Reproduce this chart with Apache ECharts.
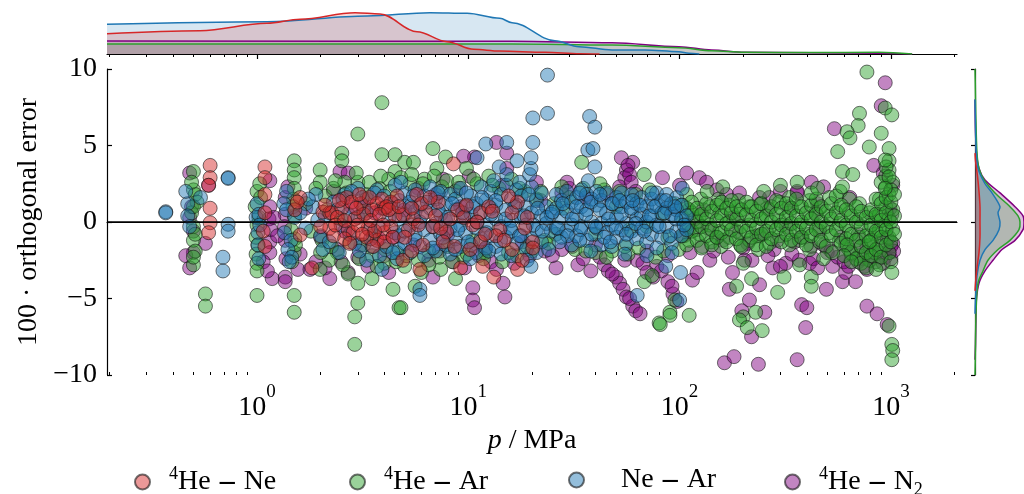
<!DOCTYPE html>
<html><head><meta charset="utf-8">
<script src="https://cdn.jsdelivr.net/npm/echarts@6/dist/echarts.min.js"></script>
<style>html,body{margin:0;padding:0;background:#fff}#c{width:1024px;height:494px}</style>
</head><body><div id="c"></div>
<script>
const FONT = '"Liberation Serif","Times New Roman","DejaVu Serif",serif';
const P_MIN = 0.195, P_MAX = 2055;
const majorTicks = [1, 10, 100, 1000];
const minorTicks = [0.2,0.3,0.4,0.5,0.6,0.7,0.8,0.9,2,3,4,5,6,7,8,9,20,30,40,50,60,70,80,90,200,300,400,500,600,700,800,900,2000];
const yTicks = [-10, -5, 0, 5, 10];
const seriesNames = ['He-Ne', 'He-Ar', 'Ne-Ar', 'He-N2'];
const legendLeft = [129, 344, 563, 779];
const legendText = {
  'He-Ne': '{sup|4}{t|He}{m|–}{t|Ne}',
  'He-Ar': '{sup|4}{t|He}{m|–}{t|Ar}',
  'Ne-Ar': '{tp|Ne}{m|–}{t|Ar}',
  'He-N2': '{sup|4}{t|He}{m|–}{t|N}{sub|2}'
};
const colors = { 'He-Ne': [214,39,40], 'He-Ar': [44,160,44], 'Ne-Ar': [31,119,180], 'He-N2': [128,0,128] };

// ---------- scatter data: [p / MPa, 100 * orthogonal error] ----------
const heNeA = [
[0.60,3.7],[0.60,2.9],[0.59,2.4],[0.60,0.9],[0.60,-0.05],[0.59,-0.7],
[1.09,3.6],[1.09,2.9],[1.09,1.8],[1.09,0.6],[1.07,-0.6],[1.09,-1.6],
[1.60,1.6],[1.51,0.8],[1.60,-0.85],[1.55,1.3],[1.82,-3.0],
[2.05,0.65],[2.21,0.6],[2.26,0.6],[2.52,0.9],[2.66,1.6],[3.10,1.2],[3.70,1.2],[4.00,0.9],
[2.21,-0.4],[2.70,-0.5],[2.85,-0.7],[3.35,-0.4],[3.70,-1.2],[4.00,-0.7],
[2.40,0.3],[2.90,0.2],[3.20,0.5],[3.50,0.8],[3.90,1.5],[4.30,1.3],[2.30,-0.9],[2.60,-1.1],[3.00,-0.2],[3.30,-1.0],[3.60,-0.6],[4.30,-0.3],[4.50,0.4],[2.00,-0.3],[2.80,1.3],[3.40,1.6],
[4.10,1.0],[4.90,0.45],[5.70,1.8],[6.30,0.65],[7.20,1.3],[7.90,-0.65],[8.90,0.8],[11.4,0.6],[16.1,0.6],[17.1,1.3],[14.1,-0.5],[20.2,-1.3],[20.2,-1.7],[16.1,-1.8],[11.4,-1.3],[11.7,-2.9],[17.1,-3.1],[4.90,-2.5],[5.90,-3.1],[5.20,-0.5],[4.00,-1.3],[7.60,-1.3],[8.50,3.8],[9.2,-3.0],
[4.6,1.7],[5.5,0.2],[6.8,-0.3],[9.5,0.3],[10.5,-0.2],[12.5,1.0],[13.5,-0.9],[18.5,-0.4],[6.0,1.2],[7.0,0.4]
];
const heNeB = [
[2.1,1.1],[2.35,-0.2],[2.45,1.4],[2.6,0.1],[2.75,-1.4],[2.95,0.9],[3.05,1.8],[3.15,-0.8],[3.45,0.1],[3.55,-1.6],[3.8,0.5],[3.95,-0.2],[4.2,0.8],[4.4,-1.0],[4.7,1.0],[5.0,-1.0],[5.4,0.9],[5.8,-0.2],[6.1,-1.5],[6.6,1.6],[7.4,-0.4],[8.2,0.2],[8.6,-1.6],[9.8,1.1],[10.2,-1.8],[11.0,0.0],[12.0,-0.8],[13.0,0.7],[14.8,-1.2],[15.5,1.7],[19.0,0.3],[18.0,-2.5],[13.2,-3.6],[5.4,-1.9]
];
const heArLow = [
[0.50,3.3],[0.50,2.1],[0.51,1.8],[0.50,-0.3],[0.50,-1.2],[0.50,-2.8],[0.57,-4.7],[0.57,-5.5],[0.52,1.3],[0.49,0.6],[0.51,-0.8],
[0.49,2.6],[0.50,1.0],[0.51,-1.9],[0.50,-2.3],[1.00,2.0],[1.01,-1.5],[0.99,-2.1],[1.49,1.5],[1.50,0.4],[1.51,-1.1],[1.50,-2.0],
[1.03,2.5],[0.98,1.0],[1.00,-0.2],[1.00,-2.7],[1.00,-3.2],[1.00,-4.8],[1.02,0.3],[0.99,-1.0],[1.04,1.6],
[1.50,4.0],[1.50,3.4],[1.50,2.9],[1.50,2.2],[1.50,-4.8],[1.50,-5.9],[1.48,1.0],[1.45,-0.5],[1.52,-1.5],[1.46,-2.6],
[1.99,3.4],[1.99,2.6],[2.03,-1.2],[1.99,-3.1],[2.52,4.5],[2.52,4.0],[2.10,1.7],[2.30,2.2],[2.60,2.6],[2.40,-2.0],[2.20,-2.5],[2.70,-3.4],
[3.00,5.75],[3.90,7.8],[3.90,4.4],[4.50,4.4],[4.50,3.3],[3.00,2.6],[3.00,-4.0],[3.00,-5.3],[2.90,-6.2],[2.90,-8.0],[3.50,-3.7],[4.40,-4.4],[4.70,-5.6],
[3.30,1.8],[3.80,2.2],[4.20,2.8],[3.50,-2.2],[4.00,-2.7],[4.60,-2.0],[3.20,-1.5]
];
const heArMid = [
[5.0,3.9],[5.5,3.9],[6.8,4.8],[7.8,4.25],[7.1,3.5],[9.8,3.5],[5.3,2.5],[6.2,2.8],[7.5,2.3],[8.7,2.0],[11,2.5],[12.5,3.0],[14,2.2],[16,2.8],[18.5,2.0],[21,1.5],
[5.0,-2.9],[6.0,-3.3],[7.4,-3.1],[8.7,-3.7],[4.8,-5.6],[9.5,-2.3],[12,-2.0],[14.5,-2.6],[17,-2.2],[19,-1.6],[23,-1.2],[26,-0.8],[28,0.9],[30,1.6],[27.7,2.3],[34.4,3.9],[5.6,-4.2],[6.5,-1.9],[8,-1.6],[10.5,-1.2],
[1.7,1.2],[1.8,-0.6],[1.9,2.2],[2.0,-2.0],[2.15,0.8],[2.25,-1.6],[2.35,2.7],[2.5,0.2],[2.55,-2.8],[2.65,1.9],[2.75,-1.3],[2.95,3.2],[3.05,-2.4],[3.2,0.7],[3.4,2.6],[3.55,-0.9],[3.7,-2.9],[3.85,3.0],[4.05,-1.8],[4.25,2.0],[4.55,-2.6],[4.8,2.9],[5.1,-2.2],[5.4,3.1],[5.8,-2.5],[6.1,2.5],[6.5,-2.8],[6.9,3.0],[7.3,-2.3],[7.9,2.7],[8.4,-2.6],[9.0,2.6],[9.9,-2.1],[10.6,2.8],[11.8,-2.4],[13.0,2.4],[15.5,-2.0],[17.5,2.2],[20,-1.9],[22,2.0],[24,-1.4],[25.5,1.2],[32,-1.8],[35,2.2],[40,-2.0],[44,2.1],[48,-1.9],[52,2.0],[57,-2.1],[64,-1.7],[72,2.1],[77,-2.3],[84,-1.9],[99,-1.8],
[80,-6.6],[90,-5.9],[95,-5.1],[68,-3.9],[74,-3.5],[68,3.1],[42,2.5],[36,-1.9],[45,-2.3],[55,-1.6],[62,1.8],[88,-1.0],[50,1.0],[40,-0.8],[58,-0.5],[70,-0.3],[83,0.5],[95,1.2]
];
const heArHigh = [
[111,0.8],[111,-0.4],[111,-1.2],[108,1.8],[124,0.4],[124,-0.8],[126,1.5],[139,1.0],[139,-0.2],[141,-1.3],
[155,0.6],[155,-0.6],[153,1.5],[157,-1.6],[172,1.1],[172,0.0],[172,-1.0],[192,0.5],[192,-0.7],[190,1.4],[194,-1.5],
[214,1.0],[214,-0.2],[214,-1.2],[239,0.3],[239,-0.9],[242,1.2],[236,-1.8],[266,0.8],[266,-0.4],[266,-1.4],
[297,1.3],[297,0.1],[297,-0.9],[331,0.6],[331,-0.5],[331,1.6],[331,-1.5],[369,1.0],[369,-0.2],[369,-1.2],
[412,1.4],[412,0.3],[412,-0.8],[412,-1.8],[459,0.9],[459,-0.3],[459,-1.3],[512,1.6],[512,0.4],[512,-0.7],
[571,1.0],[571,-0.1],[571,-1.2],[575,2.0],[636,0.6],[636,-0.6],[636,-1.8],[636,1.5],[710,0.2],[710,-1.0],[710,1.2],[710,-2.2],
[791,-0.5],[791,-1.5],[791,0.6],[791,-2.5],[840,-0.8],[840,-2.0],[840,0.3],[883,1.5],[883,0.5],[883,-0.5],[883,-1.6],[883,-2.8],
[945,3.0],[945,1.0],[945,-0.3],[945,2.3],[980,4.0],[980,1.8],[980,0.2],[980,-1.0],[980,-2.0],[980,3.4],[1020,2.6],[1020,0.8],[1020,-0.5],
[103,0.3],[103,-0.9],[103,1.1],[108,-0.2],[108,-1.5],[108,0.9],[114,0.6],[114,-0.6],[114,1.3],[121,0.0],[121,-1.2],[121,0.9],
[127,0.5],[127,-0.3],[127,-1.7],[134,1.2],[134,0.2],[134,-0.9],[142,0.7],[142,-0.5],[142,-1.5],[150,1.1],[150,0.1],[150,-1.0],
[158,0.4],[158,-0.7],[158,1.3],[167,-0.1],[167,-1.3],[167,0.9],[176,0.6],[176,-0.5],[176,1.4],[186,0.2],[186,-1.1],[186,1.0],
[196,-0.3],[196,0.8],[196,-1.6],[207,0.5],[207,-0.6],[207,1.3],[219,0.1],[219,-1.0],[219,1.0],[231,0.7],[231,-0.4],[231,-1.5],
[244,1.2],[244,0.2],[244,-0.8],[257,0.4],[257,-0.6],[257,-1.6],[272,1.0],[272,0.0],[272,-1.1],[287,0.5],[287,-0.5],[287,1.4],
[303,-0.2],[303,0.9],[303,-1.3],[320,0.3],[320,-0.8],[320,1.2],[338,0.9],[338,-0.1],[338,-1.2],[357,0.4],[357,-0.6],[357,1.5],
[377,1.0],[377,0.0],[377,-1.0],[398,0.6],[398,-0.4],[398,-1.5],[420,1.1],[420,0.2],[420,-0.9],[443,0.5],[443,-0.5],[443,1.5],
[468,0.0],[468,1.0],[468,-1.2],[494,0.7],[494,-0.3],[494,-1.6],[522,1.2],[522,0.2],[522,-0.9],[551,0.6],[551,-0.5],[551,1.7],
[582,0.1],[582,1.1],[582,-1.4],[614,0.8],[614,-0.2],[614,-1.1],[649,0.4],[649,-0.8],[649,-2.0],[685,0.0],[685,-1.2],[685,-2.4],[685,1.0],
[723,-0.3],[723,-1.6],[723,-2.7],[723,0.7],[764,0.3],[764,-0.9],[764,-2.0],[764,-3.0],[806,-0.2],[806,-1.2],[806,0.8],[806,-2.2],
[851,0.5],[851,-0.6],[851,-1.8],[851,1.5],[899,0.1],[899,-1.0],[899,1.2],[899,-2.3],[899,2.6],[949,0.6],[949,-0.5],[949,-1.5],[949,1.6],[949,3.6],
[1000,0.0],[1000,-1.3],[1000,1.3],[1000,2.1],[1000,-2.6],[1040,0.4],[1040,-0.8],[1040,1.8]
];
const heArOut = [
[770,9.8],[940,7.45],[1010,7.0],[710,7.1],[700,6.3],[620,5.9],[640,5.5],[560,4.6],[790,4.9],[900,5.8],[980,4.8],[940,4.05],[590,3.3],[660,3.1],[980,2.95],[590,2.3],[940,2.2],[420,1.9],
[200,-6.2],[192,-6.4],[209,-6.9],[229,-5.9],[246,-7.1],[219,-3.7],[186,-4.2],[200,-2.7],[291,-4.6],[312,-3.6],[420,-3.6],[420,-4.2],[620,-1.5],[850,-3.1],[1010,-3.3],
[980,-6.8],[1010,-8.0],[1020,-8.4],[1010,-9.0],[90,-6.1],[111,-6.1],[81,-6.7],[790,-1.3],[600,-2.2],[650,-2.6],[530,-2.0],[480,-2.4],[370,-2.8],
[135,2.0],[160,2.3],[250,2.0],[300,2.4],[360,2.6],[450,2.2]
];
const neArLow = [
[0.37,0.67],[0.37,0.6],[0.47,1.2],[0.54,1.6],[0.47,0.4],[0.73,2.9],[0.73,2.85],[0.73,-0.15],[0.73,-0.6],[0.69,-2.3],[0.69,-3.2],
[0.48,-0.3],[0.46,2.0],[0.99,0.3],[1.02,-2.4],[1.35,-0.7],[1.38,2.0],[1.45,-1.2],
[1.00,1.2],[1.01,-0.7],[1.01,-1.5],[1.02,0.5],[1.03,-0.2],
[1.34,1.2],[1.51,0.3],[1.40,-1.8],[1.46,-2.3],[1.42,-2.6],[1.38,0.8],
[1.84,1.0],[1.94,0.13],[2.05,-1.8],[2.00,-0.9],[1.90,1.8],
[3.7,2.1],[3.9,0.9],[3.5,-1.6],[3.9,-3.1],[2.3,1.3],[2.5,-0.2],[2.7,0.5],[2.9,-1.4],[3.2,1.0],[3.4,-0.5],[2.6,1.8],[3.0,2.2],[3.3,-2.5],
[1.6,0.6],[1.7,-0.4],[1.75,1.5],[2.1,0.4],[2.2,-1.3],[2.4,0.8],[2.45,-2.0],[2.55,1.5],[2.75,-0.8],[2.8,2.0],[3.0,0.3],[3.05,-1.9],[3.15,1.6],[3.3,0.6],[3.45,-1.1],[3.6,1.9],[3.75,-0.3],[3.8,-2.2],[4.0,1.7],[4.1,-1.6],[4.2,0.2],[4.4,1.2],[4.5,-0.7],[4.6,-2.4]
];
const neArBand = [
[4.7,1.4],[4.7,-0.9],[4.7,-1.8],[5.0,1.9],[5.0,0.5],[5.0,-1.4],[5.3,-0.2],[5.3,-2.0],[5.3,1.3],[5.6,0.7],[5.6,2.1],[5.6,-0.8],
[5.9,-1.6],[5.9,1.1],[5.9,0.0],[6.2,1.7],[6.2,-0.5],[6.2,-2.2],[6.6,0.9],[6.6,-1.2],[6.6,2.3],[7.0,-0.1],[7.0,1.5],[7.0,-1.9],
[7.4,0.5],[7.4,-0.8],[7.4,2.0],[7.8,1.2],[7.8,-1.5],[7.8,0.1],[8.2,-0.4],[8.2,1.8],[8.2,-2.1],[8.7,0.8],[8.7,-1.1],[8.7,1.5],
[9.2,-0.2],[9.2,2.2],[9.2,-1.6],[9.7,1.0],[9.7,-0.7],[9.7,0.3],[10.3,1.7],[10.3,-1.5],[10.3,0.5],[10.9,-0.4],[10.9,1.2],[10.9,-2.0],
[11.5,0.6],[11.5,2.3],[11.5,-1.1],[12.1,-0.2],[12.1,1.4],[12.1,-1.7],[12.8,0.9],[12.8,-0.9],[12.8,2.0],[13.5,0.2],[13.5,-1.6],[13.5,1.1],
[14.3,1.8],[14.3,-0.3],[14.3,-2.1],[15.1,0.8],[15.1,-1.0],[15.1,2.4],[16.0,-0.6],[16.0,1.5],[16.0,0.1],[16.9,1.1],[16.9,-1.4],[16.9,2.1],
[17.8,0.3],[17.8,-0.9],[17.8,1.7],[18.8,-0.2],[18.8,-1.8],[18.8,1.0],[19.9,0.6],[19.9,2.3],[19.9,-1.1],[21.0,1.4],[21.0,-0.5],[21.0,-2.0],
[22.2,0.4],[22.2,1.9],[22.2,-1.3],[23.4,-0.1],[23.4,1.0],[24.7,0.5],[24.7,-0.6],[26.1,0.9],[26.1,-0.4],[26.1,1.8],[27.6,-1.0],[27.6,0.3],[27.6,1.4],
[29.2,0.7],[29.2,-0.6],[29.2,2.0],[30.8,-0.2],[30.8,1.3],[30.8,-1.5],[32.5,1.6],[32.5,0.4],[32.5,-0.9],[34.3,-0.3],[34.3,1.0],[34.3,2.1],
[36.3,0.8],[36.3,-1.2],[36.3,1.8],[38.3,0.0],[38.3,1.5],[38.3,-0.8],[40.5,1.1],[40.5,-0.4],[40.5,2.0],[42.7,-0.1],[42.7,1.4],[42.7,-1.5],
[45.1,0.6],[45.1,1.9],[45.1,-0.7],[47.7,1.2],[47.7,-0.2],[47.7,-1.6],[50.3,0.3],[50.3,1.6],[50.3,-1.0],[53.1,1.0],[53.1,-0.5],[53.1,1.9],
[56.1,-0.1],[56.1,1.3],[56.1,-1.4],[59.3,0.7],[59.3,1.8],[59.3,-0.6],[62.6,1.2],[62.6,-1.1],[62.6,0.2],[66.1,0.5],[66.1,1.6],[66.1,-0.4],
[69.8,1.0],[69.8,-1.3],[69.8,0.0],[73.7,0.4],[73.7,1.5],[73.7,-0.8],[77.8,1.1],[77.8,-0.2],[77.8,1.9],[82.2,0.6],[82.2,-1.0],[82.2,1.4],
[86.8,-0.3],[86.8,0.9],[86.8,1.8],[91.6,0.5],[91.6,-1.4],[91.6,1.2],[96.8,0.8],[96.8,-0.6],[96.8,1.6],[102,0.2],[102,1.1],[102,-0.9],[108,0.4],[108,-0.5],
[4.3,0.9],[4.7,0.2],[5.0,-0.6],[5.3,1.0],[5.6,-1.2],[6.0,0.4],[6.4,1.3],[6.8,-0.3],[7.2,0.8],[7.6,-1.0],[8.0,0.3],[8.4,1.2],[8.9,-0.5],[9.4,0.6],[10.0,-1.3],[10.5,1.0],[11.0,0.0],[11.6,1.6],[12.2,-0.7],[12.8,0.5],[13.5,1.4],[14.2,-1.2],[15.0,0.2],[15.8,-0.4],[16.6,1.0],[17.5,-0.9],[18.4,0.4],[19.3,1.8],[20.3,-0.2],[21.3,0.9],[22.4,-0.6],[23.5,0.3],
[25,0.65],[26.5,-0.4],[28,1.2],[29.5,-0.9],[31,0.2],[32.5,1.0],[34,-0.5],[36,0.5],[38,1.3],[40,-0.3],[42,0.8],[44,-1.0],[46,0.2],[48,1.2],[50,-0.4],[53,0.5],[56,-0.8],[59,0.9],[62,-0.1],[65,1.1],[68,-0.6],[72,0.4],[76,1.0],[80,-0.3],[85,0.6],[90,-0.9],[96,0.2],[95,1.0],[105,-0.2]
];
const neArOut = [
[4.5,2.4],[4.8,2.6],[5.5,1.7],[7.2,1.9],[9.8,1.9],[13.2,2.7],[15.2,3.1],[17.5,2.6],[19.5,3.1],[19.8,3.5],[33.7,1.9],[42,1.8],[52,1.4],[60,1.4],[74,1.9],[86,1.4],[103,2.2],[101,-3.3],[100,-5.1],
[6.8,-1.7],[8.7,-1.8],[10.2,-2.4],[19,-2.5],[19.8,-2.9],[5.9,-4.4],[5.9,-4.8],[27,-1.3],[33.7,-1.2],[47,-1.3],[63,-4.8],[86,-2.9],[4.4,-2.0],[12.5,-1.9],[16,-2.2],[24,-1.8],[38,-1.9],[55,-2.1],[70,-2.2],[78,-1.7],[92,-2.0],
[23.7,9.6],[20.2,6.8],[23.7,7.1],[37.5,6.9],[39.7,6.2],[36.8,4.7],[38.9,4.8],[39.7,3.6],[12.1,5.1],[15.2,5.2],[20.2,5.2],[19.8,4.2],[11.0,4.2],[37,2.7],[14,3.6],[17,4.0]
];
const heN2Low = [
[0.48,3.2],[0.59,2.4],[0.48,0.3],[0.57,-1.4],[0.50,-2.0],[0.48,-3.0],[0.46,-2.2],[0.49,1.0],[0.50,-0.6],
[1.15,2.7],[1.15,1.0],[1.15,-1.3],[1.15,-2.0],[1.07,-2.6],[1.18,-3.7],[1.12,-3.2],[1.14,0.2],[1.16,-0.5],
[1.36,1.6],[1.36,0.5],[1.36,-1.2],[1.56,-3.1],[1.36,-3.6],[1.36,-3.9],[1.78,-3.1],[1.40,2.3],[1.35,-0.3],[1.37,-2.4],
[2.47,3.3],[2.70,3.2],[2.21,-3.7],[2.70,-3.3],[3.35,-2.9],[2.40,-1.8],[2.00,-1.0],[2.80,1.0],[3.10,-1.5],[2.30,2.0],[3.60,0.6],[4.00,-2.2],[4.40,-1.0],[2.50,-2.6],
[1.2,0.3],[1.25,-0.9],[1.6,-2.1],[1.7,0.9],[1.9,-2.6],[2.1,-3.0],[2.6,-0.6],[3.0,-2.3],[3.3,1.5],[3.8,-1.1],[4.2,-3.3],[5.0,0.8],[5.8,2.2],[6.5,-2.5],[7.3,-1.9],[8.5,-2.6],[9.2,1.0],[10.1,3.0],[11.2,-2.2],[12.8,-2.6],[14.5,2.4],[16.5,-2.7],[19.5,-2.2],[21,2.6],[23,-1.9],[26,-3.0],[30,2.2],[33,-2.8],[36,1.6],[38,-3.2]
];
const heN2Mid = [
[10.7,4.25],[13.6,5.2],[15.2,4.5],[15.2,3.5],[60,3.9],[56,3.4],[55,2.9],[52,2.3],[83,2.9],[29.3,2.6],[27.7,1.9],
[10.5,-4.3],[10.5,-5.1],[10.7,-5.6],[14.6,-4.0],[14.9,-4.9],[13.6,-3.1],[9.6,-3.0],[6.8,-3.6],[50,-3.6],[52,-4.0],[54,-4.4],[56,-4.9],[60,-5.5],[55,-2.5],[63,-2.5],[67,-2.7],[78,-2.9],[31,-1.6],[27.7,-1.8],[93,-4.7],[97,-5.2],
[5.5,-1.5],[7,1.8],[8,-0.8],[9,2.2],[12,-1.8],[18,-1.3],[22,1.4],[25,-2.2],[35,-2.4],[40,-1.5],[45,1.8],[70,-1.9],[88,-2.2],[9.5,4.3],[7.6,2.8],
[42,-2.3],[44,-2.8],[46,-3.2],[48,-3.4],[58,-5.0],[62,-5.8],[65,-6.0],[70,-3.3],[75,-3.6],[82,-3.2],[88,-3.9],[92,-4.2],
[53,4.2],[57,3.7],[58,3.1],[59,2.6],[62,2.0]
];
const heN2High = [
[940,9.1],[900,7.6],[540,6.1],[830,3.7],[640,1.6],[360,1.9],
[108,3.2],[124,2.9],[134,2.6],[150,2.1],[167,1.8],[192,1.9],[239,1.6],[266,1.6],[360,2.0],[100,2.4],
[115,-3.8],[121,-3.3],[139,-2.5],[172,-4.4],[178,-3.3],[203,-2.5],[197,-5.8],[214,-5.1],[219,-7.5],[253,-5.9],[239,-4.1],[163,-9.2],[181,-8.8],[236,-9.3],[360,-9.0],
[276,-3.0],[318,-2.7],[369,-2.5],[412,-2.7],[378,-5.4],[400,-5.6],[395,-6.9],[495,-4.4],[590,-3.9],[530,-2.9],[610,-3.3],[680,-3.9],[770,-3.1],[770,-5.5],[860,-6.0],[960,-6.7],
[1020,-1.4],[980,-2.0],[940,-2.3],[610,-1.5],[770,-1.6],
[120,-0.5],[150,-1.0],[180,0.3],[210,-1.4],[250,-0.8],[280,-1.8],[320,-0.3],[350,-1.3],[420,-1.6],[460,-0.6],[500,-2.0],[560,-2.3],[650,-2.1],[700,-0.8],[730,-2.4],[820,-2.0],[900,-1.2],[1000,-1.6],[1010,0.5],[260,0.9],[440,0.6],[130,0.8],
[105,-0.9],[112,-2.0],[118,0.2],[128,-1.6],[136,-0.4],[145,-1.9],[160,-1.2],[170,-2.3],[185,-0.6],[200,-1.7],[220,-2.5],[232,-0.9],[262,-2.2],[290,-1.2],[300,-2.9],[340,-2.1],[380,-1.0],[430,-2.4],[450,-3.0],[480,-1.5],[520,-1.9],[580,-1.0],[600,-2.6],[630,-2.9],[700,-2.6],[720,-1.6],[750,-2.9],[800,-2.5],[850,-2.6],[880,-2.0],[920,-2.7],[960,-1.0],[1000,-2.4],[1030,-1.9],[990,0.9],[1020,2.4],[920,3.2],[300,2.0],[450,1.2],[420,2.6],[480,2.3],[330,1.0]
];

// ---------- top marginal density: [p / MPa, relative density] ----------
const topHeNe = [[0.195,20.3],[0.537,23.3],[1.115,30.7],[1.6,34.7],[2.91,41.3],[3.82,40],[5.72,22.3],[7.93,12.3],[10.6,4.7],[14.1,3],[23.1,1.7],[33.8,0.3],[41.8,0]];
const topHeAr = [[0.195,10],[16.1,10],[47.9,9],[99.3,6.3],[142,3.3],[203,1.7],[421,1.5],[877,1.7],[1260,0]];
const topNeAr = [[0.195,29.7],[1.115,32.3],[3.32,38],[6.58,41.3],[9.87,40.7],[14.1,35.7],[16.1,31.3],[25.7,13.3],[33.4,7.3],[47.9,4],[68.4,4],[99.3,2.3],[110.7,0.7],[124,0]];
const topHeN2 = [[0.195,13],[16.1,12.7],[47.9,11.3],[99.3,7.3],[142,4],[203,1.7],[421,1.3],[877,0.7],[1260,0]];

// ---------- right marginal density: [relative density, 100 * orthogonal error] ----------
const rightHeNe = [[0,-4.5],[0.5,-4],[2,-3],[4,-2],[5,-1],[5,0],[5,1],[4,2],[2.5,3],[0.5,4],[0,4.5]];
const rightHeAr = [[0,-10],[0.3,-9],[1,-6],[3,-4],[8,-3.2],[13,-2.5],[23,-1.8],[35,-1.2],[44,-0.5],[45,0],[43,0.4],[35,1.0],[20,1.9],[9,2.75],[4,3.5],[2,4.5],[0.8,7],[0.3,9],[0,10]];
const rightNeAr = [[0,-6],[0.5,-5],[2,-3.5],[5,-2.5],[10,-1.8],[18,-1.2],[24,-0.5],[25,0],[23,0.6],[25,1.0],[17,1.9],[10,2.5],[3,3.5],[1,5],[0.3,7],[0,8]];
const rightHeN2 = [[0,-9],[0.5,-8],[1,-6],[1.5,-5],[4,-4],[10,-3.2],[18,-2.5],[27,-1.8],[40,-1.2],[48,-0.5],[49,0],[48,0.4],[40,1.0],[25,1.9],[10,2.75],[4,3.5],[1.5,4.5],[0.5,6],[0,8]];

const scatterData = {
  'He-Ne': heNeA.concat(heNeB),
  'He-Ar': heArLow.concat(heArMid, heArHigh, heArOut),
  'Ne-Ar': neArLow.concat(neArBand, neArOut),
  'He-N2': heN2Low.concat(heN2Mid, heN2High)
};
const topData = { 'He-Ne': topHeNe, 'He-Ar': topHeAr, 'Ne-Ar': topNeAr, 'He-N2': topHeN2 };
const rightData = { 'He-Ne': rightHeNe, 'He-Ar': rightHeAr, 'Ne-Ar': rightNeAr, 'He-N2': rightHeN2 };

function rgba(c, a) { return 'rgba(' + c[0] + ',' + c[1] + ',' + c[2] + ',' + a + ')'; }
function rgb(c) { return 'rgb(' + c[0] + ',' + c[1] + ',' + c[2] + ')'; }

const chart = echarts.init(document.getElementById('c'), null, { renderer: 'canvas' });

const series = [];
const drawOrder = ['He-N2', 'He-Ar', 'Ne-Ar', 'He-Ne'];
drawOrder.forEach(function (name) {
  series.push({
    name: name, type: 'scatter', xAxisIndex: 0, yAxisIndex: 0,
    data: scatterData[name], symbol: 'circle', symbolSize: 14,
    itemStyle: { color: rgba(colors[name], 0.6), borderColor: 'rgba(20,20,20,0.75)', borderWidth: 1 },
    silent: true, z: 3, large: false
  });
});
series.push({
  name: 'zero', type: 'line', xAxisIndex: 0, yAxisIndex: 0,
  data: [[P_MIN, 0], [P_MAX, 0]], symbol: 'none',
  lineStyle: { color: '#000', width: 1.4 }, silent: true, z: 10
});
['He-N2', 'He-Ar', 'Ne-Ar', 'He-Ne'].forEach(function (name) {
  series.push({
    name: 'top-' + name, type: 'line', xAxisIndex: 2, yAxisIndex: 1,
    data: topData[name], symbol: 'none', smooth: 0.35, smoothMonotone: 'x',
    lineStyle: { color: rgb(colors[name]), width: 1.5 },
    areaStyle: { color: rgba(colors[name], 0.25) }, silent: true
  });
  const pts = rightData[name];
  series.push({
    name: 'right-' + name, type: 'custom', xAxisIndex: 4, yAxisIndex: 2,
    data: pts, silent: true,
    renderItem: function (params, api) {
      if (params.dataIndex !== 0) return;
      const line = pts.map(function (d) { return api.coord([d[0], d[1]]); });
      const base0 = api.coord([0, pts[0][1]]);
      const base1 = api.coord([0, pts[pts.length - 1][1]]);
      return {
        type: 'group', children: [
          { type: 'polygon', shape: { points: [base0].concat(line, [base1]), smooth: 0.3 },
            style: { fill: rgba(colors[name], 0.25), stroke: 'none' } },
          { type: 'polyline', shape: { points: line, smooth: 0.3 },
            style: { fill: 'none', stroke: rgb(colors[name]), lineWidth: 1.5 } }
        ]
      };
    }
  });
});

const legendRich = {
  t: { fontFamily: FONT, fontSize: 28, lineHeight: 34, color: '#000' },
  tp: { fontFamily: FONT, fontSize: 28, lineHeight: 34, color: '#000', padding: [0, 0, 0, 18] },
  m: { fontFamily: FONT, fontSize: 30, lineHeight: 34, fontWeight: 'bold', padding: [0, 9, 0, 9], color: '#000' },
  sup: { fontFamily: FONT, fontSize: 18, lineHeight: 18, verticalAlign: 'top', color: '#000' },
  sub: { fontFamily: FONT, fontSize: 18, lineHeight: 14, verticalAlign: 'bottom', color: '#000' }
};
const legends = seriesNames.map(function (name, i) {
  return {
    data: [name], top: 460, left: legendLeft[i], icon: 'circle',
    itemWidth: 15, itemHeight: 15, selectedMode: false,
    formatter: function (n) { return legendText[n]; },
    textStyle: { fontFamily: FONT, color: '#000', padding: [0, 0, 0, 14], rich: legendRich }
  };
});

const axisLineStyle = { color: '#000', width: 1.2 };
const option = {
  animation: false,
  backgroundColor: '#fff',
  textStyle: { fontFamily: FONT },
  grid: [
    { left: 107, top: 69, width: 850, height: 306 },
    { left: 107, top: 0, width: 850, height: 54 },
    { left: 975, top: 69, width: 49, height: 306 }
  ],
  legend: legends,
  xAxis: [
    { gridIndex: 0, type: 'log', logBase: 10, min: P_MIN, max: P_MAX, position: 'bottom',
      axisLine: { show: true, lineStyle: axisLineStyle },
      axisTick: { show: true, inside: true, length: 6, customValues: majorTicks, lineStyle: axisLineStyle },
      axisLabel: { show: true, customValues: majorTicks, margin: 8,
        formatter: function (v) { return '{b|10}{s|' + Math.round(Math.log10(v)) + '}'; },
        rich: {
          b: { fontFamily: FONT, fontSize: 28, lineHeight: 50, color: '#000' },
          s: { fontFamily: FONT, fontSize: 19, lineHeight: 19, verticalAlign: 'top', color: '#000' }
        } },
      splitLine: { show: false },
      name: '{i|p} / MPa', nameLocation: 'middle', nameGap: 48,
      nameTextStyle: { fontFamily: FONT, fontSize: 28, color: '#000',
        rich: { i: { fontFamily: FONT, fontSize: 28, fontStyle: 'italic', color: '#000' } } } },
    { gridIndex: 0, type: 'log', logBase: 10, min: P_MIN, max: P_MAX, position: 'bottom',
      axisLine: { show: false },
      axisTick: { show: true, inside: true, length: 3, customValues: minorTicks, lineStyle: { color: '#000', width: 1 } },
      axisLabel: { show: false }, splitLine: { show: false } },
    { gridIndex: 1, type: 'log', logBase: 10, min: P_MIN, max: P_MAX, position: 'bottom',
      axisLine: { show: true, lineStyle: axisLineStyle },
      axisTick: { show: true, inside: false, length: 5, customValues: majorTicks, lineStyle: axisLineStyle },
      axisLabel: { show: false }, splitLine: { show: false } },
    { gridIndex: 1, type: 'log', logBase: 10, min: P_MIN, max: P_MAX, position: 'bottom',
      axisLine: { show: false },
      axisTick: { show: true, inside: false, length: 3, customValues: minorTicks, lineStyle: { color: '#000', width: 1 } },
      axisLabel: { show: false }, splitLine: { show: false } },
    { gridIndex: 2, type: 'value', min: 0, max: 49, show: false }
  ],
  yAxis: [
    { gridIndex: 0, type: 'value', min: -10, max: 10, interval: 5,
      axisLine: { show: true, lineStyle: axisLineStyle },
      axisTick: { show: true, inside: true, length: 5, lineStyle: axisLineStyle },
      axisLabel: { margin: 10, fontFamily: FONT, fontSize: 28, color: '#000',
        formatter: function (v) { return v < 0 ? '−' + Math.abs(v) : String(v); } },
      splitLine: { show: false },
      name: '100 · orthogonal error', nameLocation: 'middle', nameGap: 62, nameRotate: 90,
      nameTextStyle: { fontFamily: FONT, fontSize: 28, color: '#000' } },
    { gridIndex: 1, type: 'value', min: 0, max: 54, show: false },
    { gridIndex: 2, type: 'value', min: -10, max: 10, interval: 5,
      axisLine: { show: true, lineStyle: axisLineStyle },
      axisTick: { show: true, inside: false, length: 4, lineStyle: axisLineStyle },
      axisLabel: { show: false }, splitLine: { show: false } }
  ],
  series: series
};
chart.setOption(option);
</script></body></html>
